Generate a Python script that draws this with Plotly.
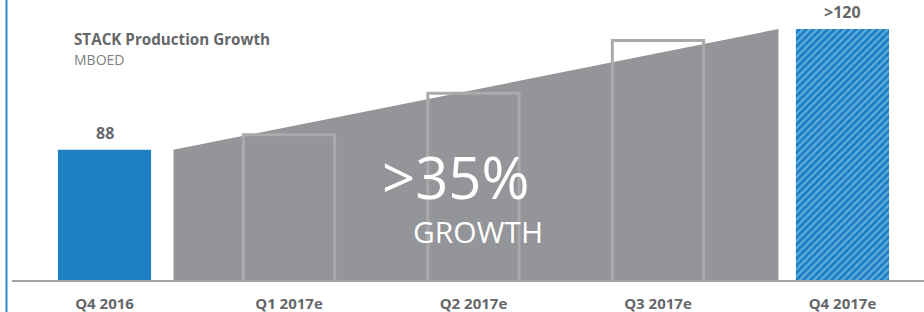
import plotly.graph_objects as go

# ---- data ----
categories = ["Q4 2016", "Q1 2017e", "Q2 2017e", "Q3 2017e", "Q4 2017e"]
actual_value = 88          # Q4 2016
target_value = 120         # Q4 2017e (">120")
interim_values = [92, 103, 117]   # outline bars Q1-Q3 2017e
bar_labels = ["88", ">120"]
title_text = "STACK Production Growth"
subtitle_text = "MBOED"
growth_big = ">35%"
growth_word = "GROWTH"

# ---- layout constants (pixels) ----
W, H = 924, 312
ML, MR, MT, MB = 12, 0, 0, 32
PW, PH = W - ML - MR, H - MT - MB

def px_x(p):
    return (p - ML) / PW

def px_y(p):
    return (H - MB - p) / PH

blue = "#1f80c1"
gray_area = "#939598"
outline = "#a9aaac"
text_gray = "#666769"

fig = go.Figure()

# actual bar
fig.add_trace(go.Bar(x=[0], y=[actual_value], width=0.505,
                     marker=dict(color=blue, line=dict(width=0)), showlegend=False,
                     hoverinfo="skip"))

# interim outline bars
fig.add_trace(go.Bar(x=[1, 2, 3], y=interim_values, width=0.495,
                     marker=dict(color="rgba(0,0,0,0)", line=dict(width=3, color=outline)),
                     showlegend=False, hoverinfo="skip"))

# target hatched bar
fig.add_trace(go.Bar(x=[4], y=[target_value], width=0.505,
                     marker=dict(color=blue, line=dict(width=0),
                                 pattern=dict(shape="/", fgcolor="#a9daf2", bgcolor="#1b7ec2",
                                              size=5, solidity=0.45)),
                     showlegend=False, hoverinfo="skip"))

# growth trapezoid (from first value to last value), drawn beneath the bars
left_off, right_off = 0.374, 0.347
xl, xr = 0 + left_off, len(categories) - 1 - right_off
growth_path = (f"M {xl},0 L {xl},{actual_value} L {xr},{target_value} "
               f"L {xr},0 Z")

annotations = [
    dict(x=0, y=actual_value, xref="x", yref="y", text=f"<b>{bar_labels[0]}</b>",
         showarrow=False, yanchor="bottom", yshift=4,
         font=dict(family="Open Sans", size=16, color=text_gray)),
    dict(x=4, y=target_value, xref="x", yref="y", text=f"<b>{bar_labels[1]}</b>",
         showarrow=False, yanchor="bottom", yshift=4,
         font=dict(family="Open Sans", size=16, color=text_gray)),
    dict(x=px_x(72), y=px_y(39), xref="paper", yref="paper", text=f"<b>{title_text}</b>",
         showarrow=False, xanchor="left", yanchor="middle",
         font=dict(family="Open Sans", size=15.2, color=text_gray)),
    dict(x=px_x(72), y=px_y(59), xref="paper", yref="paper", text=subtitle_text,
         showarrow=False, xanchor="left", yanchor="middle",
         font=dict(family="Open Sans", size=14, color="#7f8083")),
    dict(x=px_x(455), y=px_y(176), xref="paper", yref="paper", text=growth_big,
         showarrow=False, xanchor="center", yanchor="middle",
         font=dict(family="Open Sans", size=58, color="white")),
    dict(x=px_x(478), y=px_y(231), xref="paper", yref="paper", text=growth_word,
         showarrow=False, xanchor="center", yanchor="middle",
         font=dict(family="Open Sans", size=30, color="white")),
]

shapes = [
    dict(type="path", xref="x", yref="y", path=growth_path, layer="below",
         fillcolor=gray_area, line=dict(width=0)),
    dict(type="line", xref="paper", yref="paper", x0=px_x(6.5), x1=px_x(6.5),
         y0=px_y(H), y1=px_y(0), line=dict(color="#2b8ccc", width=2)),
]

fig.update_layout(
    width=W, height=H,
    margin=dict(l=ML, r=MR, t=MT, b=MB),
    paper_bgcolor="white", plot_bgcolor="white",
    barmode="overlay",
    showlegend=False,
    annotations=annotations,
    shapes=shapes,
    xaxis=dict(range=[-0.5014, 4.442], tickvals=list(range(len(categories))),
               ticktext=[f"<b>{c}</b>" for c in categories],
               showgrid=False, zeroline=False, showline=True, linecolor="#a3a3a3",
               linewidth=2, ticks="outside", ticklen=9, tickcolor="rgba(0,0,0,0)",
               fixedrange=True,
               tickfont=dict(family="Open Sans", size=15, color=text_gray)),
    yaxis=dict(range=[53.5, 127.7], visible=False, showgrid=False, zeroline=False,
               fixedrange=True),
)

fig.write_html("out.html", config={"displayModeBar": False},
               post_script="document.body.style.margin='0';document.body.style.overflow='hidden';")
